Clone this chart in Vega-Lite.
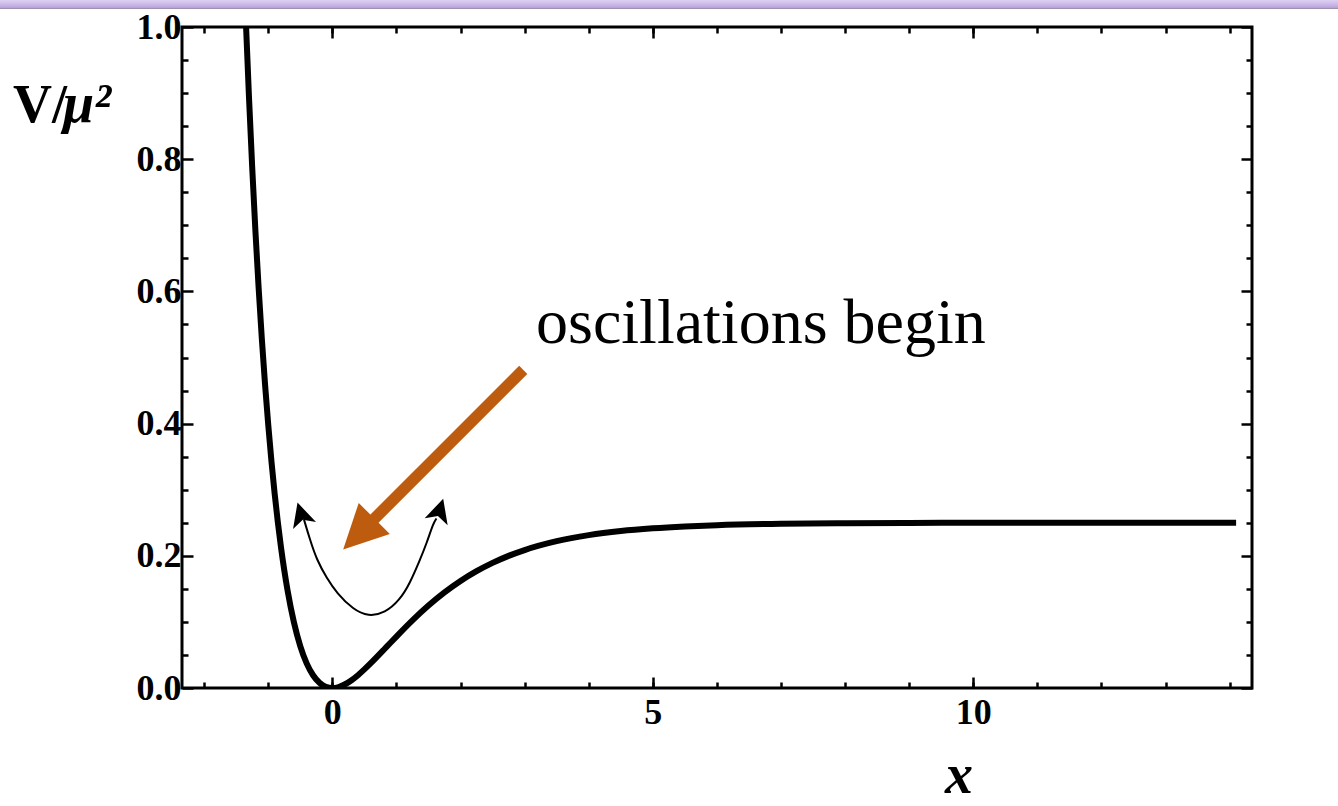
{
  "$schema": "https://vega.github.io/schema/vega-lite/v6.json",
  "width": 1070,
  "height": 661,
  "autosize": "none",
  "padding": {"left": 182, "top": 27, "right": 86, "bottom": 118},
  "background": "white",
  "config": {
    "view": {"stroke": "black", "strokeWidth": 3},
    "axis": {
      "domain": false,
      "grid": false,
      "tickColor": "black",
      "tickWidth": 2.5,
      "labelFont": "Liberation Serif",
      "labelFontWeight": "bold",
      "labelFontSize": 36,
      "labelColor": "black",
      "title": null
    }
  },
  "datasets": {
    "curve": [
      {"x": -1.345, "v": 1.0}, {"x": -1.3, "v": 0.894}, {"x": -1.25, "v": 0.788}, {"x": -1.2, "v": 0.692},
      {"x": -1.15, "v": 0.606}, {"x": -1.1, "v": 0.529}, {"x": -1.05, "v": 0.46}, {"x": -1.0, "v": 0.3986},
      {"x": -0.95, "v": 0.3435}, {"x": -0.9, "v": 0.2944}, {"x": -0.85, "v": 0.2509}, {"x": -0.8, "v": 0.2124},
      {"x": -0.75, "v": 0.1785}, {"x": -0.7, "v": 0.1486}, {"x": -0.6, "v": 0.0999}, {"x": -0.5, "v": 0.0635},
      {"x": -0.4, "v": 0.0373}, {"x": -0.3, "v": 0.0193}, {"x": -0.2, "v": 0.0079}, {"x": -0.1, "v": 0.0018},
      {"x": 0, "v": 0}, {"x": 0.1, "v": 0.0015}, {"x": 0.2, "v": 0.0057}, {"x": 0.3, "v": 0.0118},
      {"x": 0.4, "v": 0.0194}, {"x": 0.5, "v": 0.0281}, {"x": 0.6, "v": 0.0375}, {"x": 0.7, "v": 0.0474},
      {"x": 0.8, "v": 0.0575}, {"x": 0.9, "v": 0.0677}, {"x": 1.0, "v": 0.0778}, {"x": 1.25, "v": 0.1023},
      {"x": 1.5, "v": 0.1247}, {"x": 1.75, "v": 0.1446}, {"x": 2.0, "v": 0.1619}, {"x": 2.25, "v": 0.1767},
      {"x": 2.5, "v": 0.1893}, {"x": 2.75, "v": 0.1999}, {"x": 3.0, "v": 0.2087}, {"x": 3.5, "v": 0.2221},
      {"x": 4.0, "v": 0.2313}, {"x": 4.5, "v": 0.2375}, {"x": 5.0, "v": 0.2416}, {"x": 5.5, "v": 0.2444},
      {"x": 6.0, "v": 0.2463}, {"x": 7.0, "v": 0.2484}, {"x": 8.0, "v": 0.2493}, {"x": 9.0, "v": 0.2497},
      {"x": 10.0, "v": 0.2499}, {"x": 11.0, "v": 0.25}, {"x": 12.0, "v": 0.25}, {"x": 13.0, "v": 0.25},
      {"x": 14.1, "v": 0.25}
    ],
    "osc": [
      {"x": -0.441, "v": 0.2545}, {"x": -0.348, "v": 0.2243}, {"x": -0.243, "v": 0.194},
      {"x": -0.087, "v": 0.1663}, {"x": 0.069, "v": 0.1437}, {"x": 0.328, "v": 0.1184}, {"x": 0.562, "v": 0.1083},
      {"x": 0.822, "v": 0.1134}, {"x": 1.056, "v": 0.1335}, {"x": 1.212, "v": 0.1588}, {"x": 1.368, "v": 0.194},
      {"x": 1.473, "v": 0.2193}, {"x": 1.576, "v": 0.2495}, {"x": 1.625, "v": 0.2565}
    ]
  },
  "resolve": {"axis": {"x": "independent", "y": "independent"}},
  "layer": [
    {
      "data": {"values": [{"x": -5.19, "x2": 15.7, "v": 1.0409, "v2": 1.0272}]},
      "mark": {"type": "rect", "clip": false,
               "color": {"gradient": "linear", "x1": 0, "y1": 0, "x2": 0, "y2": 1,
                         "stops": [{"offset": 0, "color": "#ddd1f1"}, {"offset": 0.6, "color": "#c7b2e7"}, {"offset": 0.85, "color": "#b7a4d6"}, {"offset": 1, "color": "#8d8597"}]}},
      "encoding": {
        "x": {"field": "x", "type": "quantitative", "scale": {"domain": [-2.345, 14.348], "nice": false, "zero": false}, "axis": null},
        "x2": {"field": "x2"},
        "y": {"field": "v", "type": "quantitative", "scale": {"domain": [0, 1], "nice": false, "zero": false}, "axis": null},
        "y2": {"field": "v2"}
      }
    },
    {
      "data": {"name": "curve"},
      "mark": {"type": "line", "color": "black", "strokeWidth": 6, "interpolate": "monotone", "clip": true},
      "encoding": {
        "x": {"field": "x", "type": "quantitative",
              "scale": {"domain": [-2.345, 14.348], "nice": false, "zero": false},
              "axis": {"orient": "bottom", "values": [0, 5, 10], "format": "d", "tickSize": -11, "labelPadding": 18, "labelFontSize": 36}},
        "y": {"field": "v", "type": "quantitative",
              "scale": {"domain": [0, 1], "nice": false, "zero": false},
              "axis": {"orient": "left", "values": [0, 0.2, 0.4, 0.6, 0.8, 1.0], "format": ".1f", "tickSize": -11, "labelPadding": 12, "labelFontSize": 36}}
      }
    },
    {
      "data": {"name": "osc"},
      "mark": {"type": "line", "color": "black", "strokeWidth": 2, "interpolate": "basis"},
      "encoding": {
        "x": {"field": "x", "type": "quantitative",
              "scale": {"domain": [-2.345, 14.348], "nice": false, "zero": false},
              "axis": {"orient": "bottom", "values": [-2, -1, 0, 1, 2, 3, 4, 5, 6, 7, 8, 9, 10, 11, 12, 13, 14], "labels": false, "tickSize": -6}},
        "y": {"field": "v", "type": "quantitative",
              "scale": {"domain": [0, 1], "nice": false, "zero": false},
              "axis": {"orient": "left", "values": [0.05, 0.1, 0.15, 0.25, 0.3, 0.35, 0.45, 0.5, 0.55, 0.65, 0.7, 0.75, 0.85, 0.9, 0.95], "labels": false, "tickSize": -6}}
      }
    },
    {
      "data": {"values": [{"x": 2.979, "v": 0.4813, "x2": 0.5757, "v2": 0.2483}]},
      "mark": {"type": "rule", "color": "#bd5c0e", "strokeWidth": 11.5},
      "encoding": {
        "x": {"field": "x", "type": "quantitative",
              "scale": {"domain": [-2.345, 14.348], "nice": false, "zero": false},
              "axis": {"orient": "top", "values": [0, 5, 10], "labels": false, "tickSize": -11}},
        "x2": {"field": "x2"},
        "y": {"field": "v", "type": "quantitative",
              "scale": {"domain": [0, 1], "nice": false, "zero": false},
              "axis": {"orient": "right", "values": [0, 0.2, 0.4, 0.6, 0.8, 1.0], "labels": false, "tickSize": -11}},
        "y2": {"field": "v2"}
      }
    },
    {
      "data": {"values": [{"x": 0.412, "v": 0.2329}]},
      "mark": {"type": "point", "shape": "M0,-1L1,1L-1,1Z", "filled": true, "color": "#bd5c0e", "opacity": 1, "size": 1936, "angle": 225, "strokeWidth": 0},
      "encoding": {
        "x": {"field": "x", "type": "quantitative",
              "scale": {"domain": [-2.345, 14.348], "nice": false, "zero": false},
              "axis": {"orient": "top", "values": [-2, -1, 0, 1, 2, 3, 4, 5, 6, 7, 8, 9, 10, 11, 12, 13, 14], "labels": false, "tickSize": -6}},
        "y": {"field": "v", "type": "quantitative",
              "scale": {"domain": [0, 1], "nice": false, "zero": false},
              "axis": {"orient": "right", "values": [0.05, 0.1, 0.15, 0.25, 0.3, 0.35, 0.45, 0.5, 0.55, 0.65, 0.7, 0.75, 0.85, 0.9, 0.95], "labels": false, "tickSize": -6}}
      }
    },
    {
      "data": {"values": [{"x": -0.488, "v": 0.2631}]},
      "mark": {"type": "point", "shape": "M0,-1L1,1L0,0.5L-1,1Z", "filled": true, "color": "black", "opacity": 1, "size": 576, "angle": 343, "strokeWidth": 0},
      "encoding": {
        "x": {"field": "x", "type": "quantitative", "scale": {"domain": [-2.345, 14.348], "nice": false, "zero": false}, "axis": null},
        "y": {"field": "v", "type": "quantitative", "scale": {"domain": [0, 1], "nice": false, "zero": false}, "axis": null}
      }
    },
    {
      "data": {"values": [{"x": 1.675, "v": 0.269}]},
      "mark": {"type": "point", "shape": "M0,-1L1,1L0,0.5L-1,1Z", "filled": true, "color": "black", "opacity": 1, "size": 576, "angle": 17, "strokeWidth": 0},
      "encoding": {
        "x": {"field": "x", "type": "quantitative", "scale": {"domain": [-2.345, 14.348], "nice": false, "zero": false}, "axis": null},
        "y": {"field": "v", "type": "quantitative", "scale": {"domain": [0, 1], "nice": false, "zero": false}, "axis": null}
      }
    },
    {
      "data": {"values": [{"x": 3.178, "v": 0.5222, "label": "oscillations begin"}]},
      "mark": {"type": "text", "font": "Liberation Serif", "fontSize": 64, "align": "left", "baseline": "alphabetic", "color": "black"},
      "encoding": {
        "x": {"field": "x", "type": "quantitative", "scale": {"domain": [-2.345, 14.348], "nice": false, "zero": false}, "axis": null},
        "y": {"field": "v", "type": "quantitative", "scale": {"domain": [0, 1], "nice": false, "zero": false}, "axis": null},
        "text": {"field": "label"}
      }
    },
    {
      "data": {"values": [{"x": -4.981, "v": 0.8568, "label": "V/"}]},
      "mark": {"type": "text", "font": "Liberation Serif", "fontSize": 54, "fontWeight": "bold", "align": "left", "baseline": "alphabetic", "color": "black", "clip": false},
      "encoding": {
        "x": {"field": "x", "type": "quantitative", "scale": {"domain": [-2.345, 14.348], "nice": false, "zero": false}, "axis": null},
        "y": {"field": "v", "type": "quantitative", "scale": {"domain": [0, 1], "nice": false, "zero": false}, "axis": null},
        "text": {"field": "label"}
      }
    },
    {
      "data": {"values": [{"x": -4.201, "v": 0.8568, "label": "μ²"}, {"x": 9.559, "v": -0.1583, "label": "x"}]},
      "mark": {"type": "text", "font": "Liberation Serif", "fontSize": 56, "fontWeight": "bold", "fontStyle": "italic", "align": "left", "baseline": "alphabetic", "color": "black", "clip": false},
      "encoding": {
        "x": {"field": "x", "type": "quantitative", "scale": {"domain": [-2.345, 14.348], "nice": false, "zero": false}, "axis": null},
        "y": {"field": "v", "type": "quantitative", "scale": {"domain": [0, 1], "nice": false, "zero": false}, "axis": null},
        "text": {"field": "label"}
      }
    }
  ]
}
